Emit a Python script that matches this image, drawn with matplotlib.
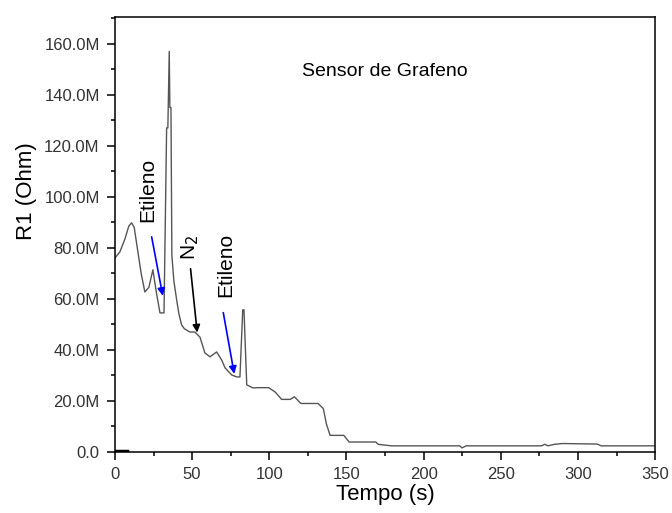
import matplotlib
matplotlib.use("Agg")
import matplotlib.pyplot as plt
from matplotlib.ticker import MultipleLocator, FuncFormatter

plt.rcParams['font.family'] = ['Liberation Sans', 'DejaVu Sans']

# time (s) and resistance (MOhm)
tempo = [0, 3.2, 6.5, 9.0, 10.8, 12.5, 14.0, 17.0, 19.4, 22.0, 24.6, 27.0,
         29.2, 31.8, 33.5, 34.3, 35.2, 35.6, 36.3, 36.9, 38.2, 40.0, 41.5,
         43.2, 45.0, 48.6, 51.8, 55.1, 58.3, 61.6, 65.9, 69.2, 71.3, 75.6,
         78.9, 81.0, 82.8, 83.6, 85.4, 89.4, 92.6, 99.6, 103.8, 108.0, 113.5,
         116.3, 120.5, 131.6, 135.0, 137.0, 139.4, 148.3, 151.7, 169.0, 170.5,
         179.0, 223.4, 224.8, 227.6, 276.3, 278.5, 280.5, 284.7, 290.0, 312.4,
         315.0, 350.0]
r1 = [76, 78.4, 83.5, 88.5, 89.8, 88.0, 82.0, 70.0, 62.7, 64.5, 71.4, 62.0,
      54.5, 54.5, 127, 127, 157, 135, 135, 77, 67, 59.6, 54,
      49.8, 48.3, 47, 47, 45, 38.8, 37.3, 39.2, 36, 33, 30.2,
      29.4, 29.4, 55.7, 55.7, 26.3, 25.1, 25.2, 25.2, 23.5, 20.6, 20.6,
      21.6, 19, 19, 17, 11, 6.5, 6.5, 3.9, 3.9, 3.0,
      2.4, 2.4, 1.6, 2.4, 2.4, 3.0, 2.4, 3.0, 3.3, 3.1,
      2.4, 2.4]

# short black trace lying on the x axis
tempo_b = [0, 8]
r1_b = [0.4, 0.4]

# arrows: (start, end) in (s, MOhm)
setas = [((23.8, 84.3), (31.0, 61.2), 'blue'),
         ((49.0, 71.8), (53.3, 46.8), 'black'),
         ((70.2, 54.6), (77.3, 30.6), 'blue')]
rotulos = [(21.4, 102.8, 'Etileno'), (48.6, 80.0, 'N$_2$'), (72.0, 73.3, 'Etileno')]

fig = plt.figure(figsize=(6.72, 5.13), dpi=100)
ax = fig.add_axes([0.171, 0.119, 0.804, 0.848])

ax.plot(tempo, [v * 1e6 for v in r1], color='#555555', lw=1.0)
ax.plot(tempo_b, [v * 1e6 for v in r1_b], color='black', lw=2.5)

for (x0, y0), (x1, y1), c in setas:
    ax.annotate('', xy=(x1, y1 * 1e6), xytext=(x0, y0 * 1e6),
                arrowprops=dict(arrowstyle='-|>', color=c, lw=1.2,
                                mutation_scale=11, shrinkA=0, shrinkB=0))
for x, y, s in rotulos:
    ax.text(x, y * 1e6, s, rotation=90, ha='center', va='center', fontsize=15)

ax.text(121, 149e6, 'Sensor de Grafeno', ha='left', va='center', fontsize=14)

ax.set_xlim(0, 350)
ax.set_ylim(0, 170.5e6)
ax.xaxis.set_major_locator(MultipleLocator(50))
ax.xaxis.set_minor_locator(MultipleLocator(25))
ax.yaxis.set_major_locator(MultipleLocator(20e6))
ax.yaxis.set_minor_locator(MultipleLocator(10e6))
ax.yaxis.set_major_formatter(FuncFormatter(
    lambda v, p: '0.0' if v == 0 else f'{v / 1e6:.1f}M'))

ax.tick_params(which='both', direction='out', top=False, right=False,
               width=1.1, labelsize=12, labelcolor='#333333')
ax.tick_params(which='major', length=6, pad=5)
ax.tick_params(which='minor', length=3)
for sp in ax.spines.values():
    sp.set_linewidth(1.1)

ax.set_xlabel('Tempo (s)', fontsize=16, labelpad=1)
ax.set_ylabel('R1 (Ohm)', fontsize=16)
ax.yaxis.set_label_coords(-0.145, 0.6)

fig.savefig('out.png', dpi=100)
